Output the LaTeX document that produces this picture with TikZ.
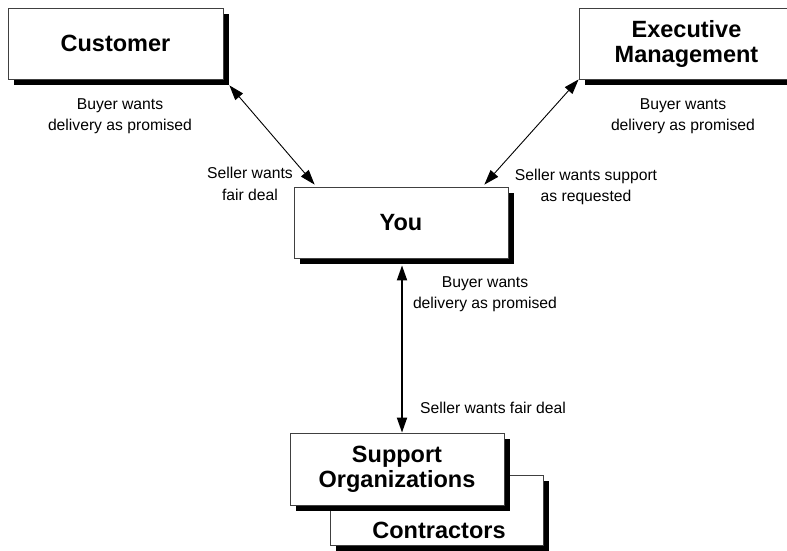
\documentclass[tikz,border=0pt]{standalone}
\usepackage{fontspec}
\setmainfont{Liberation Sans}
\usepackage{tikz}
\usetikzlibrary{arrows.meta,shadows}

\tikzset{
  party/.style={rectangle, draw=black!75, line width=0.8pt, fill=white,
    minimum width=215pt, minimum height=71pt, inner sep=0pt, align=center,
    font=\bfseries\fontsize{23.5}{25}\selectfont,
    drop shadow={shadow xshift=6pt, shadow yshift=-6pt, opacity=1, fill=black}},
  want/.style={font=\fontsize{15.7}{21.5}\selectfont, align=center},
  deal/.style={{Triangle[length=15pt,width=10pt]}-{Triangle[length=15pt,width=10pt]}, line width=0.9pt},
}

\begin{document}
\begin{tikzpicture}[x=1pt, y=-1pt]
    \useasboundingbox (0,0) rectangle (787,551);
    \clip (0,0) rectangle (787,551);

    % The three parties round you
    \node[party] (cust) at (115.5,43.5) {Customer};
    \node[party] (exec) at (686.5,43.5) {Executive\\Management};
    \node[party, minimum width=214pt] (you) at (401,222.5) {You};

    % Support stack: contractors behind, organizations in front
    \node[party, minimum width=213pt, minimum height=70pt] (contr) at (436.5,510) {};
    \node[font=\bfseries\fontsize{23.5}{25}\selectfont] (ctxt) at (439,530) {Contractors};
    \node[party, minimum width=214pt, minimum height=72pt] (supp) at (397,469) {Support\\Organizations};

    % What each side wants
    \node[want] (custbuy) at (120,116) {Buyer wants\\delivery as promised};
    \node[want] (execbuy) at (683,116) {Buyer wants\\delivery as promised};
    \node[want] (custsell) at (250,184) {Seller wants\\fair deal};
    \node[want] (execsell) at (586,187) {Seller wants support\\as requested};
    \node[want] (youbuy) at (485,294) {Buyer wants\\delivery as promised};
    \node[want] (suppsell) at (493,408) {Seller wants fair deal};

    % Two-way relations
    \draw[deal] ([shift={(6,6)}]cust.south east) -- ([shift={(21,-2)}]you.north west);
    \draw[deal] (exec.south west) -- ([shift={(-24,-2)}]you.north east);
    \draw[deal, line width=1.8pt] ([shift={(1,7)}]you.south) -- ([xshift=1pt]you.south |- supp.north);
\end{tikzpicture}
\end{document}
